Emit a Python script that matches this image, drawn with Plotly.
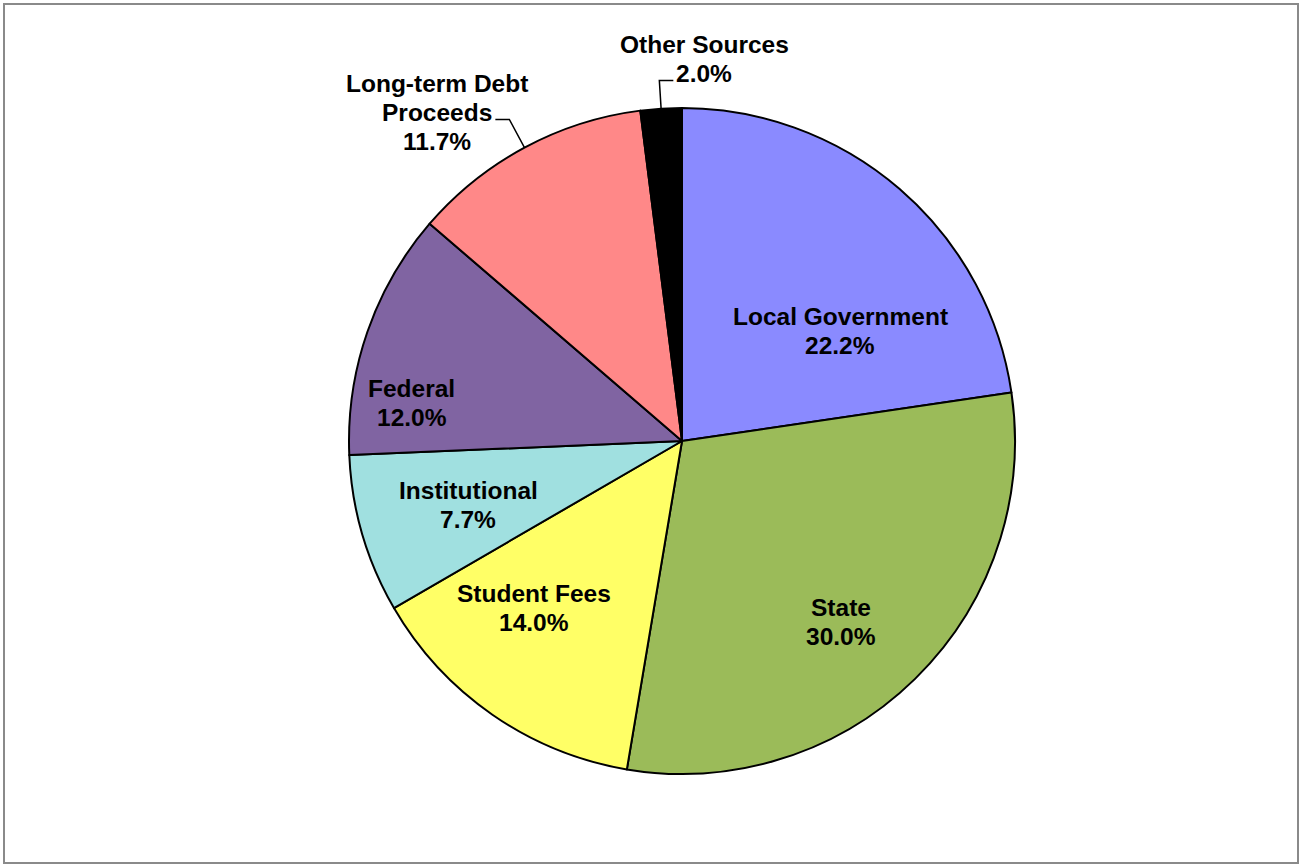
import math
import plotly.graph_objects as go

# ---- data ----
categories = ["Local Government", "State", "Student Fees", "Institutional",
              "Federal", "Long-term Debt|Proceeds", "Other Sources"]
# slice sizes as drawn in the picture
shares = [22.7, 30.0, 14.0, 7.7, 12.0, 11.7, 2.0]
# percentage labels as printed in the picture
pct_labels = ["22.2%", "30.0%", "14.0%", "7.7%", "12.0%", "11.7%", "2.0%"]
colors = ["#8A8AFF", "#9BBB59", "#FFFF66", "#A0E0E0", "#8064A2", "#FF8888", "#000000"]

# ---- layout constants ----
W, H = 1302, 865
CX, CY, R = 682, 441, 333  # pie centre / radius in pixels
LINE_H = 29                 # label line spacing in px

# inside label placement: (angle offset from slice middle in degrees, radius fraction)
# outside labels: ("out", side, leader radius fraction, dx, dy) -> block centre offset from leader end
label_place = [(14.3, 0.58), (3.1, 0.725), (6.7, 0.67), (-0.4, 0.67), (-11.1, 0.82),
               ("out", -1, 1.096, -58, -7), ("out", 1, 1.085, 31, -21)]

total = sum(shares)
fig = go.Figure(go.Pie(
    labels=[c.replace("|", " ") for c in categories], values=shares, sort=False,
    direction="clockwise", rotation=0,
    marker=dict(colors=colors, line=dict(color="black", width=2)),
    textinfo="none", hoverinfo="label", showlegend=False,
    domain=dict(x=[(CX - R) / W, (CX + R) / W], y=[(H - CY - R) / H, (H - CY + R) / H]),
))

def px2paper(x, y):
    return x / W, 1 - y / H

def polar(angle_deg, rad):
    a = math.radians(angle_deg)
    return CX + rad * math.sin(a), CY - rad * math.cos(a)

font = dict(family="Liberation Sans, Arial, sans-serif", size=24.5, color="black")
annotations = []
shapes = []

def add_block(lines, cx, cy):
    n = len(lines)
    for i, ln in enumerate(lines):
        y = cy + (i - (n - 1) / 2) * LINE_H
        px_, py_ = px2paper(cx, y)
        annotations.append(dict(x=px_, y=py_, xref="paper", yref="paper", text=f"<b>{ln}</b>",
                                showarrow=False, font=font, xanchor="center", yanchor="middle"))

cum = 0.0
for name, v, lab, place in zip(categories, shares, pct_labels, label_place):
    span = v / total * 360
    mid = cum + span / 2
    cum += span
    lines = name.split("|") + [lab]
    if place[0] != "out":
        x, y = polar(mid + place[0], R * place[1])
        add_block(lines, x, y)
    else:
        _, side, rf, dx, dy = place
        x0, y0 = polar(mid, R)
        x1, y1 = polar(mid, R * rf)
        x2 = x1 + side * 14
        pts = [px2paper(*p) for p in [(x0, y0), (x1, y1), (x2, y1)]]
        path = "M {} {} L {} {} L {} {}".format(pts[0][0], pts[0][1], pts[1][0], pts[1][1],
                                                pts[2][0], pts[2][1])
        shapes.append(dict(type="path", path=path, xref="paper", yref="paper",
                           line=dict(color="black", width=1.5)))
        add_block(lines, x2 + dx, y1 + dy)

# outer frame
shapes.append(dict(type="rect", xref="paper", yref="paper",
                   x0=4 / W, x1=(W - 4) / W, y0=2 / H, y1=1 - 4 / H,
                   line=dict(color="#8a8a8a", width=2)))

fig.update_layout(width=W, height=H, margin=dict(l=0, r=0, t=0, b=0),
                  paper_bgcolor="white", plot_bgcolor="white",
                  annotations=annotations, shapes=shapes)
fig.write_html("out.html")
